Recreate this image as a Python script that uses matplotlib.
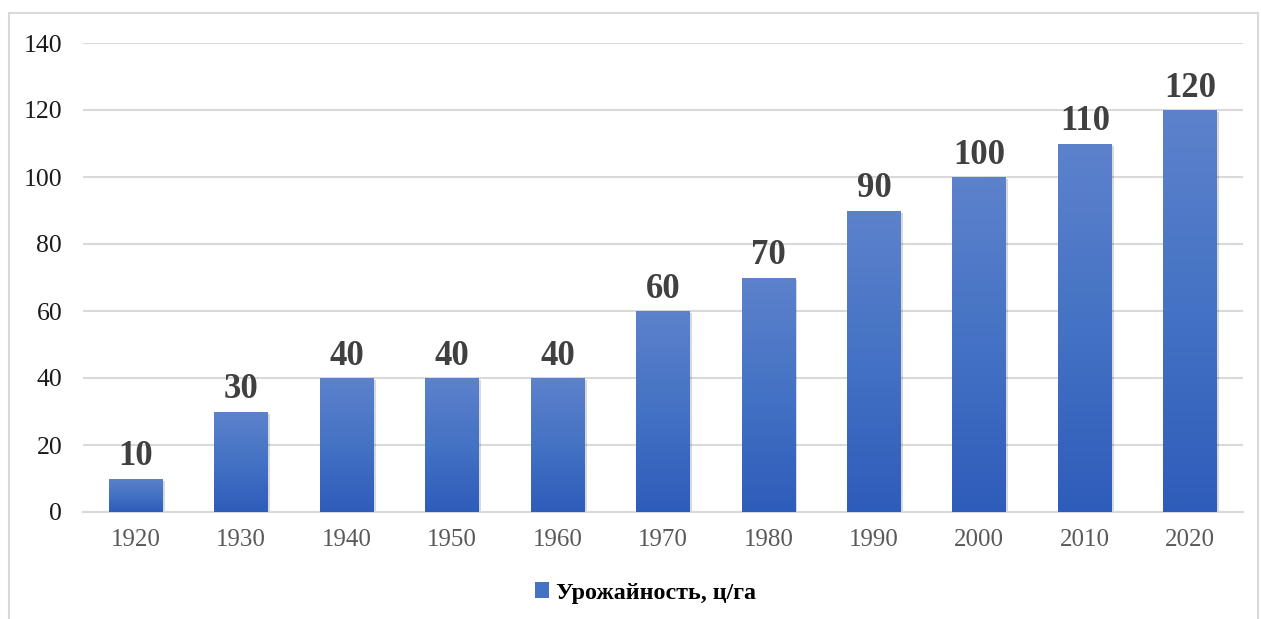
import matplotlib
matplotlib.use("Agg")
import matplotlib.pyplot as plt
import numpy as np
from matplotlib.patches import Rectangle, Patch
from matplotlib.colors import LinearSegmentedColormap

years = ["1920", "1930", "1940", "1950", "1960", "1970", "1980", "1990", "2000", "2010", "2020"]
yields = [10, 30, 40, 40, 40, 60, 70, 90, 100, 110, 120]
series_name = "Урожайность, ц/га"
yticks = [0, 20, 40, 60, 80, 100, 120, 140]

plt.rcParams['font.family'] = ['Liberation Serif', 'DejaVu Serif']

fig = plt.figure(figsize=(12.61, 6.19), dpi=100)
fig.patch.set_facecolor("white")
# outer border
fig.patches.append(Rectangle((9/1261, -0.05), (1258-9)/1261, 1 - 13/619 + 0.05,
                             transform=fig.transFigure, fill=False,
                             edgecolor="#d9d9d9", linewidth=1.5))

ax = fig.add_axes([83/1261, 1 - 512/619, (1243-83)/1261, (512-43)/619])
x = np.arange(len(years))
width = 0.51
cmap = LinearSegmentedColormap.from_list("g", ["#2e5cba", "#4472c4", "#5d82cc"])
grad = np.linspace(0, 1, 256).reshape(-1, 1)

ax.set_xlim(-0.5, len(years) - 0.5)
ax.set_ylim(0, 140)
ax.set_yticks(yticks)
ax.grid(axis="y", color="#d9d9d9", linewidth=1.5, zorder=0)
ax.set_axisbelow(True)

bars = ax.bar(x, yields, width=width, color="none", edgecolor="none", zorder=3)
for b, v in zip(bars, yields):
    x0, y0 = b.get_x(), b.get_y()
    w, h = b.get_width(), b.get_height()
    # shadow
    ax.add_patch(Rectangle((x0 + 0.02, y0 - 0.7), w, h, facecolor="#000000",
                           alpha=0.15, edgecolor="none", zorder=2))
    im = ax.imshow(grad, extent=[x0, x0 + w, y0, y0 + h], origin="lower",
                   cmap=cmap, aspect="auto", zorder=3)
    im.set_clip_path(b)
    ax.text(x0 + w / 2, v + 1.6, str(v), ha="center", va="bottom",
            fontsize=25, fontweight="bold", color="#404040", zorder=4)

ax.set_xticks(x)
ax.set_xticklabels(years)
ax.tick_params(axis="x", length=0, pad=12, labelsize=18, labelcolor="#595959")
ax.tick_params(axis="y", length=0, pad=15, labelsize=18.5, labelcolor="#1a1a1a")
for s in ["top", "right", "left"]:
    ax.spines[s].set_visible(False)
ax.spines["bottom"].set_color("#d9d9d9")
ax.spines["bottom"].set_linewidth(1.5)

handle = Patch(facecolor="#4472c4", edgecolor="none")
leg = fig.legend([handle], [series_name], loc="center", bbox_to_anchor=(0.512, 1 - 593/619),
                 frameon=False, handlelength=0.6, handleheight=0.6, handletextpad=0.3,
                 prop={"size": 17.3, "weight": "bold"})

fig.savefig("out.png", dpi=100)
